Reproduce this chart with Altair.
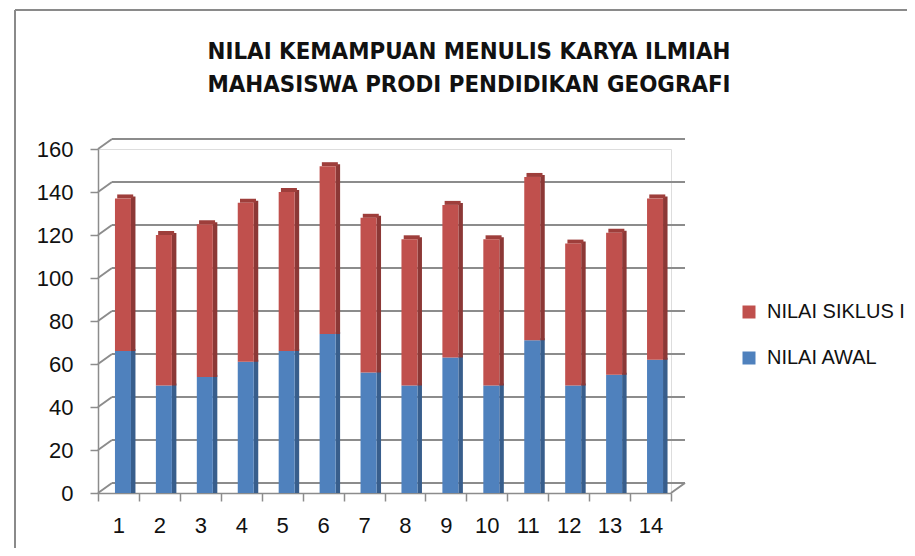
import altair as alt
import pandas as pd

students = [str(i) for i in range(1, 15)]
nilai_awal = [66, 50, 54, 61, 66, 74, 56, 50, 63, 50, 71, 50, 55, 62]
nilai_siklus = [71, 70, 71, 74, 74, 78, 72, 68, 71, 68, 76, 66, 66, 75]
series_names = ["NILAI SIKLUS I", "NILAI AWAL"]
title_lines = ["NILAI KEMAMPUAN MENULIS KARYA ILMIAH", "MAHASISWA PRODI PENDIDIKAN GEOGRAFI"]
y_ticks = [0, 20, 40, 60, 80, 100, 120, 140, 160]

rows = []
for s, a, k in zip(students, nilai_awal, nilai_siklus):
    rows.append({"mhs": s, "series": "NILAI AWAL", "y0": 0, "y1": a})
    rows.append({"mhs": s, "series": "NILAI SIKLUS I", "y0": a, "y1": a + k})
df = pd.DataFrame(rows)
reds = df[df.series == "NILAI SIKLUS I"]
blues = df[df.series == "NILAI AWAL"]
grid_df = pd.DataFrame({"v": y_ticks})
zero_df = grid_df[grid_df.v == 0]

W, H = 573, 344
FONT = "Liberation Sans"
GRID = "#8C8C8C"
DX, DY = 14, -10

yscale = alt.Scale(domain=[0, 160], nice=False)
yaxis = alt.Axis(values=y_ticks, tickSize=8, tickColor=GRID, domainColor=GRID,
                 domainWidth=1.5, tickWidth=1.5, labelFont=FONT,
                 labelFontSize=22, labelColor="#111", labelPadding=17, grid=False)
xs = alt.X("mhs:N", sort=students, title=None,
           scale=alt.Scale(paddingInner=0, paddingOuter=0),
           axis=alt.Axis(labelAngle=0, tickBand="extent", tickSize=8, tickColor=GRID,
                         domainColor=GRID, domainWidth=1.5, tickWidth=1.5,
                         labelFont=FONT, labelFontSize=22, labelColor="#111",
                         labelPadding=14, grid=False))


def yenc(field):
    return alt.Y(field, title=None, scale=yscale, axis=yaxis)


grid = alt.Chart(grid_df).mark_rule(color=GRID, strokeWidth=2, yOffset=DY).encode(
    y=yenc("v:Q"), x=alt.value(DX), x2=alt.value(W + DX))
conn = alt.Chart(grid_df).mark_rule(color=GRID, strokeWidth=2, y2Offset=DY).encode(
    y=yenc("v:Q"), y2="v:Q", x=alt.value(0), x2=alt.value(DX))
floor_r = alt.Chart(zero_df).mark_rule(color=GRID, strokeWidth=2, y2Offset=DY).encode(
    y=yenc("v:Q"), y2="v:Q", x=alt.value(W), x2=alt.value(W + DX))

border_top = alt.Chart(zero_df).mark_rule(color="#8a8a8a", strokeWidth=2).encode(
    x=alt.value(-83), x2=alt.value(820), y=alt.value(-139))
border_left = alt.Chart(zero_df).mark_rule(color="#8a8a8a", strokeWidth=2).encode(
    x=alt.value(-83), y=alt.value(-139), y2=alt.value(420))

side_b = alt.Chart(blues).mark_bar(size=4.5, xOffset=14.75, yOffset=-2, color="#385E8C").encode(
    x=xs, y=yenc("y1:Q"), y2="y0:Q")
side_r = alt.Chart(reds).mark_bar(size=4.5, xOffset=14.75, yOffset=-2, color="#8C3836").encode(
    x=xs, y=yenc("y1:Q"), y2="y0:Q")
topf = alt.Chart(reds).mark_bar(size=16, xOffset=6.75, y2Offset=-4, color="#9E3E3B").encode(
    x=xs, y=yenc("y1:Q"), y2="y1:Q")
front = alt.Chart(df).mark_bar(size=16, xOffset=4.5).encode(
    x=xs, y=yenc("y1:Q"), y2="y0:Q",
    color=alt.Color("series:N", scale=alt.Scale(domain=series_names, range=["#C0504D", "#4F81BD"]),
                    legend=alt.Legend(title=None, orient="none", legendX=641, legendY=153,
                                      symbolType="square", symbolSize=169, symbolStrokeWidth=0,
                                      symbolOpacity=1, labelFont=FONT, labelFontSize=20,
                                      labelColor="#111", labelOffset=8, rowPadding=26,
                                      labelLimit=300)))

title_df = pd.DataFrame({"t": title_lines, "row": [0, 1]})
TFONT = "DejaVu Sans Condensed"
t1 = alt.Chart(title_df[title_df.row == 0]).mark_text(
    font=TFONT, fontWeight="bold", fontSize=23.8, color="#111").encode(
    text="t:N", x=alt.value(371), y=alt.value(-97))
t2 = alt.Chart(title_df[title_df.row == 1]).mark_text(
    font=TFONT, fontWeight="bold", fontSize=23.8, color="#111").encode(
    text="t:N", x=alt.value(371), y=alt.value(-64))

chart = alt.layer(border_top, border_left, grid, conn, floor_r, side_b, side_r, topf, front, t1, t2).properties(
    width=W, height=H,
    autosize=alt.AutoSizeParams(type="none"),
    padding={"left": 90, "top": 141, "right": 236, "bottom": 55},
).configure_view(stroke=None).configure(background="white")

chart.save("out.html", embed_options={"renderer": "svg", "actions": False})
